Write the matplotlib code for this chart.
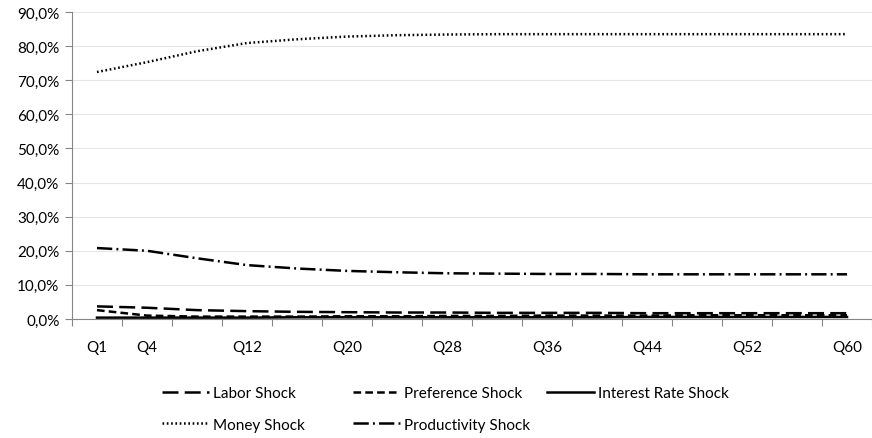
import matplotlib
matplotlib.use('Agg')
import matplotlib.pyplot as plt
from matplotlib.ticker import FuncFormatter

plt.rcParams['font.family'] = ['Lato', 'DejaVu Sans']
plt.rcParams['lines.scale_dashes'] = False

quarters = ['Q1', 'Q4', 'Q8', 'Q12', 'Q16', 'Q20', 'Q24', 'Q28', 'Q32',
            'Q36', 'Q40', 'Q44', 'Q48', 'Q52', 'Q56', 'Q60']
shown = ['Q1', 'Q4', 'Q12', 'Q20', 'Q28', 'Q36', 'Q44', 'Q52', 'Q60']

labor = [3.7, 3.3, 2.6, 2.3, 2.1, 2.0, 1.9, 1.9, 1.8, 1.8, 1.8, 1.7, 1.7, 1.7, 1.7, 1.7]
preference = [2.6, 1.0, 0.7, 0.7, 0.7, 0.8, 0.8, 0.9, 0.9, 1.0, 1.0, 1.0, 1.1, 1.1, 1.1, 1.1]
interest = [0.4, 0.4, 0.4, 0.4, 0.5, 0.5, 0.5, 0.5, 0.5, 0.5, 0.5, 0.6, 0.6, 0.6, 0.6, 0.6]
money = [72.4, 75.3, 78.5, 80.9, 82.0, 82.8, 83.2, 83.4, 83.5, 83.5, 83.5, 83.5, 83.5, 83.5, 83.5, 83.5]
productivity = [20.8, 20.0, 17.8, 15.8, 14.8, 14.1, 13.7, 13.4, 13.3, 13.2, 13.2, 13.1, 13.1, 13.1, 13.1, 13.1]

fig = plt.figure(figsize=(8.72, 4.39), dpi=100)
ax = fig.add_axes([72/872, 1-320/439, 1-72/872, 307/439])

x = range(len(quarters))
lw = 1.8
l1, = ax.plot(x, labor, color='black', lw=lw, ls=(0, (11.5, 4.5)), label='Labor Shock')
l2, = ax.plot(x, preference, color='black', lw=lw, ls=(0, (5.5, 3)), label='Preference Shock')
l3, = ax.plot(x, interest, color='black', lw=lw, ls='-', label='Interest Rate Shock')
l4, = ax.plot(x, money, color='black', lw=lw, ls=(0, (1.2, 1.9)), label='Money Shock')
l5, = ax.plot(x, productivity, color='black', lw=lw, ls=(0, (11, 3, 1.4, 3)), label='Productivity Shock')

ax.set_xlim(-0.5, 15.38)
ax.set_ylim(0, 90)
ax.set_yticks(range(0, 91, 10))
ax.yaxis.set_major_formatter(FuncFormatter(lambda v, p: ('%.1f%%' % v).replace('.', ',')))
ax.grid(axis='y', color='#e6e6e6', lw=0.8)
ax.set_axisbelow(True)

ax.set_xticks([i + 0.5 for i in range(-1, 16)])
ax.set_xticklabels([])
ax.set_xticks(list(x), minor=True)
ax.set_xticklabels([q if q in shown else '' for q in quarters], minor=True)
ax.tick_params(axis='x', which='minor', length=0, pad=15, labelsize=11)
ax.tick_params(axis='x', which='major', length=5, color='#868686')
ax.tick_params(axis='y', length=5, color='#868686', labelsize=11, pad=4)

for s in ['top', 'right']:
    ax.spines[s].set_visible(False)
for s in ['left', 'bottom']:
    ax.spines[s].set_color('#868686')

kw = dict(frameon=False, fontsize=11, handlelength=3.1, handletextpad=0.25,
          labelspacing=1.15, loc='upper left', borderaxespad=0, borderpad=0)
cols = [([l1, l4], 162), ([l2, l5], 353), ([l3], 547)]
for hs, px in cols:
    fig.legend(handles=hs, bbox_to_anchor=(px/872, 1-387/439), **kw)

fig.savefig('out.png', dpi=100)
